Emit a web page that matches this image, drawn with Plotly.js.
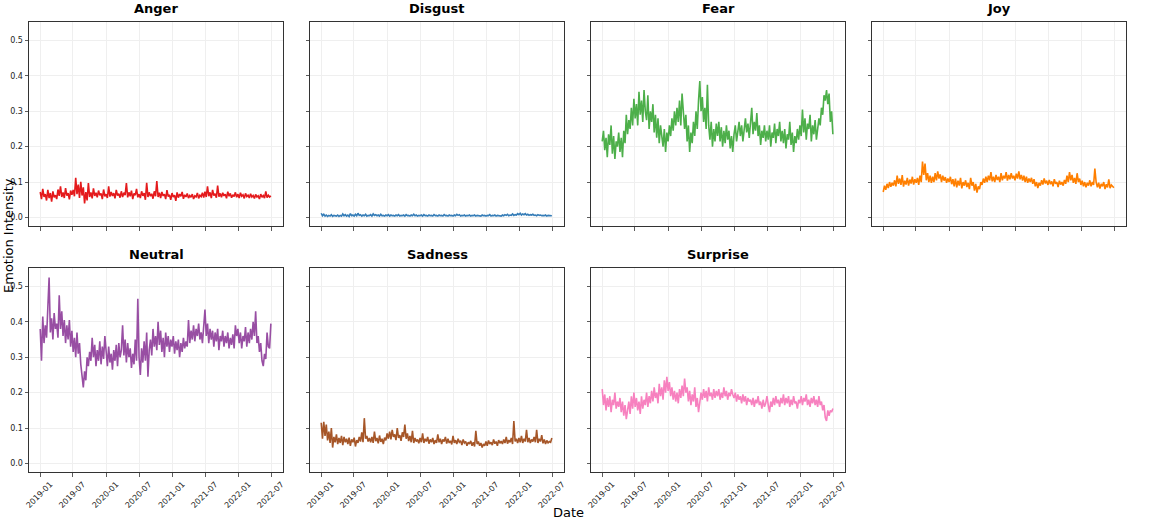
<!DOCTYPE html>
<html>
<head>
<meta charset="utf-8">
<script src="https://cdn.plot.ly/plotly-3.0.1.min.js"></script>
<style>
  html, body { margin: 0; padding: 0; background: #fff; }
  #chart { width: 1165px; height: 525px; }
</style>
</head>
<body>
<div id="chart"></div>
<script>
// weekly samples starting 2019-01-01, one row per quarter
const emotions = ["Anger", "Disgust", "Fear", "Joy", "Neutral", "Sadness", "Surprise"];
const colors = ["#e41a1c", "#377eb8", "#4daf4a", "#ff7f00", "#984ea3", "#a65628", "#f781bf"];
const tickDates = ["2019-01-01", "2019-07-01", "2020-01-01", "2020-07-01", "2021-01-01", "2021-07-01", "2022-01-01", "2022-07-01"];
const tickLabels = ["2019-01", "2019-07", "2020-01", "2020-07", "2021-01", "2021-07", "2022-01", "2022-07"];

const anger = [
  0.072,0.052,0.081,0.058,0.066,0.048,0.078,0.055,0.069,0.045,0.074,0.057,0.063,
  0.052,0.079,0.061,0.088,0.058,0.071,0.055,0.083,0.062,0.069,0.051,0.076,0.064,
  0.078,0.060,0.112,0.066,0.093,0.055,0.101,0.062,0.085,0.040,0.072,0.048,0.097,
  0.058,0.071,0.054,0.082,0.061,0.070,0.057,0.076,0.063,0.068,0.052,0.079,0.060,
  0.066,0.055,0.088,0.059,0.072,0.061,0.069,0.054,0.078,0.062,0.067,0.056,0.074,
  0.058,0.070,0.063,0.097,0.057,0.071,0.060,0.076,0.052,0.068,0.063,0.081,0.057,
  0.066,0.055,0.074,0.061,0.069,0.050,0.098,0.058,0.071,0.060,0.067,0.053,0.074,
  0.060,0.103,0.058,0.070,0.055,0.072,0.061,0.066,0.052,0.077,0.059,0.064,0.050,
  0.069,0.058,0.063,0.047,0.071,0.056,0.066,0.060,0.072,0.053,0.064,0.058,0.068,
  0.055,0.062,0.057,0.066,0.052,0.061,0.058,0.069,0.054,0.063,0.059,0.070,0.056,
  0.073,0.058,0.088,0.060,0.071,0.055,0.078,0.062,0.067,0.056,0.090,0.059,0.068,
  0.057,0.070,0.061,0.066,0.054,0.073,0.060,0.068,0.056,0.064,0.059,0.071,0.057,
  0.066,0.055,0.070,0.060,0.064,0.054,0.068,0.059,0.063,0.055,0.067,0.058,0.062,
  0.054,0.065,0.058,0.061,0.052,0.066,0.057,0.062,0.055,0.074,0.056,0.063,0.058,
  0.061
];
const disgust = [
  0.012,0.005,0.009,0.004,0.007,0.003,0.006,0.004,0.008,0.003,0.006,0.005,0.004,
  0.007,0.003,0.006,0.004,0.010,0.005,0.008,0.004,0.007,0.003,0.011,0.005,0.007,
  0.004,0.009,0.005,0.012,0.006,0.008,0.004,0.007,0.005,0.009,0.004,0.006,0.005,
  0.008,0.004,0.010,0.006,0.008,0.005,0.007,0.004,0.009,0.005,0.006,0.004,0.007,
  0.005,0.008,0.004,0.007,0.005,0.006,0.004,0.007,0.005,0.008,0.004,0.006,0.005,
  0.007,0.004,0.008,0.005,0.006,0.004,0.007,0.005,0.009,0.005,0.007,0.004,0.006,
  0.005,0.007,0.004,0.008,0.005,0.006,0.004,0.007,0.005,0.006,0.004,0.008,0.005,
  0.006,0.004,0.007,0.005,0.006,0.004,0.008,0.005,0.006,0.004,0.007,0.005,0.006,
  0.004,0.007,0.005,0.009,0.006,0.008,0.004,0.006,0.005,0.007,0.004,0.006,0.005,
  0.007,0.004,0.006,0.005,0.007,0.004,0.006,0.005,0.006,0.004,0.007,0.005,0.006,
  0.004,0.006,0.005,0.008,0.004,0.006,0.005,0.007,0.004,0.006,0.005,0.006,0.004,
  0.007,0.005,0.008,0.006,0.009,0.005,0.007,0.006,0.010,0.006,0.008,0.007,0.011,
  0.008,0.012,0.007,0.010,0.008,0.011,0.007,0.009,0.006,0.008,0.007,0.009,0.006,
  0.007,0.005,0.008,0.006,0.007,0.005,0.006,0.005,0.007,0.004,0.006,0.005,0.005,
  0.005
];
const fear = [
  0.215,0.245,0.190,0.225,0.170,0.235,0.205,0.260,0.180,0.230,0.165,0.215,0.200,
  0.240,0.185,0.225,0.170,0.245,0.210,0.290,0.235,0.275,0.250,0.310,0.260,0.335,
  0.280,0.320,0.260,0.355,0.290,0.330,0.270,0.360,0.300,0.275,0.345,0.250,0.300,
  0.270,0.320,0.240,0.290,0.225,0.280,0.210,0.260,0.235,0.200,0.250,0.185,0.240,
  0.215,0.260,0.230,0.280,0.245,0.300,0.260,0.310,0.270,0.330,0.260,0.350,0.280,
  0.250,0.290,0.215,0.260,0.185,0.240,0.210,0.270,0.230,0.300,0.250,0.330,0.385,
  0.300,0.340,0.270,0.310,0.250,0.375,0.260,0.220,0.270,0.200,0.250,0.215,0.265,
  0.230,0.270,0.215,0.255,0.200,0.245,0.210,0.260,0.220,0.245,0.195,0.230,0.185,
  0.235,0.260,0.215,0.250,0.270,0.230,0.260,0.215,0.250,0.280,0.240,0.265,0.225,
  0.260,0.310,0.235,0.270,0.245,0.295,0.230,0.260,0.205,0.245,0.225,0.260,0.215,
  0.245,0.220,0.260,0.200,0.240,0.225,0.265,0.210,0.250,0.230,0.270,0.215,0.245,
  0.210,0.250,0.195,0.235,0.220,0.270,0.205,0.240,0.185,0.230,0.210,0.250,0.220,
  0.260,0.230,0.305,0.240,0.280,0.220,0.265,0.250,0.290,0.215,0.260,0.235,0.275,
  0.220,0.255,0.280,0.260,0.310,0.290,0.345,0.330,0.360,0.320,0.350,0.270,0.300,
  0.235
];
const joy = [
  0.072,0.090,0.078,0.095,0.083,0.100,0.087,0.098,0.090,0.105,0.088,0.118,0.095,
  0.110,0.092,0.120,0.087,0.104,0.093,0.112,0.090,0.107,0.096,0.115,0.093,0.108,
  0.098,0.112,0.092,0.118,0.100,0.158,0.120,0.152,0.105,0.125,0.100,0.118,0.098,
  0.115,0.100,0.125,0.105,0.130,0.110,0.122,0.100,0.118,0.104,0.114,0.098,0.110,
  0.100,0.115,0.094,0.108,0.088,0.110,0.085,0.104,0.090,0.112,0.082,0.100,0.090,
  0.105,0.086,0.098,0.080,0.112,0.090,0.100,0.076,0.095,0.070,0.088,0.080,0.100,
  0.092,0.110,0.098,0.115,0.100,0.118,0.105,0.128,0.102,0.115,0.100,0.120,0.106,
  0.115,0.100,0.125,0.105,0.118,0.110,0.128,0.104,0.120,0.108,0.125,0.110,0.118,
  0.105,0.124,0.110,0.130,0.108,0.120,0.104,0.118,0.100,0.115,0.098,0.110,0.100,
  0.112,0.095,0.108,0.088,0.100,0.083,0.098,0.090,0.105,0.093,0.110,0.096,0.104,
  0.092,0.106,0.094,0.102,0.088,0.108,0.095,0.100,0.086,0.104,0.093,0.100,0.090,
  0.106,0.095,0.118,0.100,0.128,0.105,0.120,0.098,0.112,0.095,0.125,0.100,0.110,
  0.092,0.104,0.088,0.100,0.085,0.098,0.090,0.105,0.088,0.100,0.092,0.138,0.100,
  0.085,0.098,0.082,0.095,0.088,0.100,0.080,0.094,0.085,0.108,0.083,0.092,0.087,
  0.084
];
const neutral = [
  0.380,0.290,0.415,0.340,0.390,0.355,0.440,0.525,0.370,0.410,0.350,0.425,0.380,
  0.395,0.355,0.475,0.380,0.430,0.360,0.405,0.340,0.390,0.350,0.405,0.330,0.375,
  0.315,0.355,0.300,0.370,0.310,0.340,0.280,0.250,0.215,0.260,0.235,0.300,0.275,
  0.315,0.290,0.355,0.300,0.335,0.275,0.320,0.290,0.345,0.280,0.330,0.295,0.360,
  0.300,0.275,0.330,0.285,0.310,0.265,0.320,0.290,0.335,0.275,0.340,0.300,0.320,
  0.390,0.305,0.350,0.285,0.340,0.300,0.325,0.270,0.310,0.280,0.350,0.290,0.465,
  0.300,0.250,0.325,0.285,0.345,0.290,0.370,0.245,0.320,0.350,0.305,0.380,0.330,
  0.360,0.320,0.400,0.335,0.375,0.315,0.355,0.300,0.370,0.330,0.360,0.315,0.350,
  0.330,0.360,0.310,0.345,0.320,0.350,0.300,0.340,0.315,0.355,0.325,0.345,0.330,
  0.405,0.340,0.375,0.350,0.390,0.345,0.380,0.360,0.395,0.350,0.370,0.340,0.380,
  0.435,0.360,0.395,0.340,0.380,0.350,0.375,0.330,0.370,0.345,0.380,0.320,0.360,
  0.345,0.375,0.330,0.360,0.340,0.370,0.325,0.355,0.335,0.365,0.325,0.390,0.360,
  0.380,0.340,0.370,0.325,0.360,0.345,0.385,0.330,0.370,0.340,0.380,0.350,0.400,
  0.360,0.430,0.340,0.360,0.315,0.340,0.290,0.275,0.310,0.295,0.370,0.330,0.325,
  0.395
];
const sadness = [
  0.115,0.070,0.118,0.078,0.110,0.065,0.090,0.058,0.100,0.045,0.075,0.060,0.082,
  0.055,0.072,0.058,0.078,0.052,0.075,0.060,0.070,0.055,0.073,0.050,0.068,0.060,
  0.073,0.048,0.066,0.058,0.075,0.062,0.088,0.060,0.128,0.070,0.078,0.062,0.072,
  0.060,0.075,0.058,0.090,0.063,0.072,0.057,0.079,0.061,0.070,0.055,0.073,0.065,
  0.085,0.070,0.090,0.068,0.095,0.075,0.082,0.066,0.100,0.072,0.080,0.064,0.088,
  0.075,0.110,0.070,0.085,0.063,0.078,0.060,0.092,0.058,0.072,0.062,0.068,0.057,
  0.072,0.060,0.085,0.058,0.070,0.062,0.075,0.056,0.068,0.060,0.072,0.055,0.066,
  0.058,0.082,0.060,0.070,0.055,0.068,0.062,0.075,0.056,0.070,0.058,0.064,0.054,
  0.078,0.058,0.066,0.055,0.070,0.060,0.064,0.052,0.068,0.058,0.062,0.050,0.060,
  0.055,0.064,0.050,0.060,0.048,0.092,0.055,0.062,0.050,0.058,0.045,0.055,0.050,
  0.062,0.050,0.065,0.055,0.060,0.052,0.068,0.056,0.062,0.050,0.066,0.057,0.063,
  0.055,0.068,0.058,0.075,0.056,0.066,0.060,0.072,0.055,0.120,0.062,0.070,0.058,
  0.072,0.060,0.078,0.058,0.070,0.062,0.095,0.060,0.072,0.058,0.068,0.062,0.075,
  0.060,0.095,0.058,0.070,0.062,0.080,0.057,0.068,0.055,0.065,0.058,0.062,0.060,
  0.072
];
const surprise = [
  0.210,0.165,0.195,0.150,0.185,0.160,0.190,0.145,0.180,0.165,0.200,0.155,0.175,
  0.160,0.185,0.145,0.175,0.135,0.165,0.125,0.150,0.175,0.140,0.190,0.155,0.200,
  0.160,0.185,0.150,0.175,0.140,0.190,0.155,0.180,0.165,0.200,0.160,0.190,0.170,
  0.205,0.175,0.215,0.185,0.200,0.170,0.225,0.190,0.215,0.180,0.235,0.200,0.245,
  0.205,0.230,0.190,0.215,0.180,0.205,0.175,0.200,0.170,0.210,0.185,0.220,0.190,
  0.240,0.200,0.215,0.175,0.205,0.165,0.195,0.175,0.215,0.160,0.185,0.145,0.170,
  0.200,0.180,0.210,0.185,0.205,0.175,0.215,0.190,0.200,0.180,0.210,0.185,0.205,
  0.190,0.210,0.180,0.200,0.185,0.215,0.190,0.205,0.180,0.200,0.190,0.210,0.195,
  0.185,0.200,0.175,0.195,0.180,0.190,0.170,0.195,0.175,0.190,0.165,0.185,0.175,
  0.180,0.165,0.185,0.160,0.180,0.170,0.190,0.165,0.175,0.155,0.180,0.160,0.170,
  0.190,0.165,0.145,0.175,0.160,0.185,0.165,0.190,0.170,0.180,0.160,0.185,0.170,
  0.195,0.165,0.185,0.170,0.190,0.160,0.180,0.165,0.190,0.170,0.175,0.155,0.180,
  0.170,0.190,0.165,0.185,0.175,0.195,0.165,0.180,0.160,0.185,0.170,0.190,0.165,
  0.180,0.160,0.190,0.165,0.175,0.150,0.165,0.130,0.120,0.150,0.135,0.150,0.145,
  0.155
];

const series = [anger, disgust, fear, joy, neutral, sadness, surprise];

function weekDates(n) {
  const t0 = Date.UTC(2019, 0, 1);
  return Array.from({length: n}, (_, i) => new Date(t0 + i * 7 * 86400000).toISOString().slice(0, 10));
}

// panel boxes in pixels (left, right) and (top, bottom) of the 1165x525 page
const W = 1165, H = 525;
const colPx = [[29, 283], [310, 564], [591, 845], [872, 1126]];
const rowPx = [[22, 226], [268, 472]];

const tickFont = {family: "DejaVu Sans", size: 8, color: "#222"};
const gridStyle = {showgrid: true, gridcolor: "#efefef", gridwidth: 1, zeroline: false};
const traces = [];
const layout = {
  width: W, height: H,
  margin: {l: 0, r: 0, t: 0, b: 0},
  paper_bgcolor: "white",
  plot_bgcolor: "white",
  showlegend: false,
  annotations: []
};

series.forEach((vals, i) => {
  const row = Math.floor(i / 4), col = i % 4;
  const n = i + 1;
  const xa = "xaxis" + (n === 1 ? "" : n), ya = "yaxis" + (n === 1 ? "" : n);
  const xs = "x" + (n === 1 ? "" : n), ys = "y" + (n === 1 ? "" : n);
  const bottomRow = row === 1;

  traces.push({
    type: "scatter", mode: "lines",
    x: weekDates(vals.length), y: vals,
    xaxis: xs, yaxis: ys,
    line: {color: colors[i], width: 1.6},
    hoverinfo: "skip"
  });

  layout[xa] = {
    domain: [colPx[col][0] / W, colPx[col][1] / W],
    anchor: ys,
    type: "date",
    range: ["2018-10-31", "2022-09-03"],
    tickmode: "array",
    tickvals: tickDates,
    ticktext: tickLabels,
    showticklabels: bottomRow,
    tickangle: -45,
    ticklabelshift: 10,
    tickfont: tickFont,
    ticks: "outside", ticklen: 3.5, tickwidth: 0.8, tickcolor: "#333",
    showline: true, linecolor: "#333", linewidth: 1, mirror: true,
    ...gridStyle
  };
  layout[ya] = {
    domain: [1 - rowPx[row][1] / H, 1 - rowPx[row][0] / H],
    anchor: xs,
    range: [-0.024, 0.552],
    tickvals: [0, 0.1, 0.2, 0.3, 0.4, 0.5],
    ticktext: ["0.0", "0.1", "0.2", "0.3", "0.4", "0.5"],
    showticklabels: col === 0,
    tickfont: tickFont,
    ticks: "outside", ticklen: 3.5, tickwidth: 0.8, tickcolor: "#333",
    showline: true, linecolor: "#333", linewidth: 1, mirror: true,
    ...gridStyle
  };

  // panel title
  layout.annotations.push({
    text: emotions[i],
    xref: "paper", yref: "paper",
    x: (colPx[col][0] + colPx[col][1]) / 2 / W,
    y: 1 - (rowPx[row][0] - 4) / H,
    xanchor: "center", yanchor: "bottom",
    showarrow: false,
    font: {family: "DejaVu Sans", size: 13, color: "#000", weight: "bold"}
  });
});

// shared axis labels
layout.annotations.push({
  text: "Date", xref: "paper", yref: "paper",
  x: 568 / W, y: 1 - 512 / H, xanchor: "center", yanchor: "middle",
  showarrow: false, font: {family: "DejaVu Sans", size: 13, color: "#000"}
});
layout.annotations.push({
  text: "Emotion Intensity", xref: "paper", yref: "paper",
  x: 8 / W, y: 1 - 236 / H, xanchor: "center", yanchor: "middle",
  textangle: -90,
  showarrow: false, font: {family: "DejaVu Sans", size: 13, color: "#000"}
});

Plotly.newPlot("chart", traces, layout, {displayModeBar: false, staticPlot: true});
</script>
</body>
</html>
